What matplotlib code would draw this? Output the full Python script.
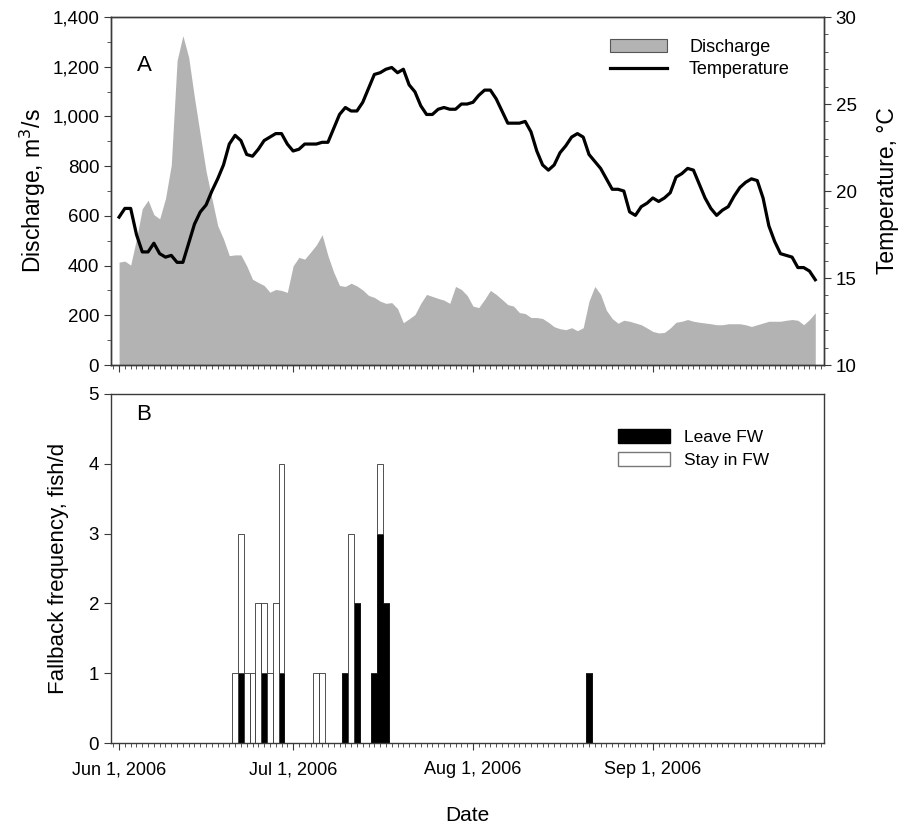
"""
Discharge / temperature (A) and fallback frequency (B), summer 2006.
"""
import matplotlib
matplotlib.use('Agg')
import matplotlib.pyplot as plt
import matplotlib.dates as mdates
import matplotlib.patches as mpatches
import matplotlib.lines as mlines
from matplotlib.ticker import MultipleLocator, FuncFormatter
import numpy as np
import pandas as pd

plt.rcParams['font.family'] = ['Liberation Sans', 'DejaVu Sans']

# daily series, Jun 1 .. Sep 29 2006
start_date = '2006-06-01'
discharge = [
    414, 418, 402, 507, 629, 663, 605, 588, 670, 805,
    1225, 1325, 1238, 1075, 926, 779, 670, 561, 507, 440,
    443, 443, 399, 345, 332, 320, 293, 304, 300, 292,
    399, 433, 426, 454, 483, 524, 440, 373, 320, 316,
    329, 318, 302, 280, 272, 257, 248, 251, 227, 170,
    186, 203, 248, 284, 276, 268, 261, 248, 316, 304,
    280, 237, 231, 264, 300, 284, 264, 243, 237, 211,
    207, 191, 191, 187, 172, 154, 146, 142, 150, 138,
    150, 257, 316, 284, 220, 187, 168, 180, 176, 169,
    162, 149, 135, 129, 131, 149, 172, 176, 183, 176,
    172, 169, 166, 162, 162, 166, 166, 166, 162, 155,
    162, 169, 176, 176, 176, 180, 183, 180, 162, 183,
    210,
]
temperature = [
    18.5, 19.0, 19.0, 17.5, 16.5, 16.5, 17.0, 16.4, 16.2, 16.3,
    15.9, 15.9, 17.0, 18.1, 18.8, 19.2, 20.0, 20.7, 21.5, 22.7,
    23.2, 22.9, 22.1, 22.0, 22.4, 22.9, 23.1, 23.3, 23.3, 22.7,
    22.3, 22.4, 22.7, 22.7, 22.7, 22.8, 22.8, 23.6, 24.4, 24.8,
    24.6, 24.6, 25.1, 25.9, 26.7, 26.8, 27.0, 27.1, 26.8, 27.0,
    26.1, 25.7, 24.9, 24.4, 24.4, 24.7, 24.8, 24.7, 24.7, 25.0,
    25.0, 25.1, 25.5, 25.8, 25.8, 25.3, 24.6, 23.9, 23.9, 23.9,
    24.0, 23.4, 22.3, 21.5, 21.2, 21.5, 22.2, 22.6, 23.1, 23.3,
    23.1, 22.1, 21.7, 21.3, 20.7, 20.1, 20.1, 20.0, 18.8, 18.6,
    19.1, 19.3, 19.6, 19.4, 19.6, 19.9, 20.8, 21.0, 21.3, 21.2,
    20.4, 19.6, 19.0, 18.6, 18.9, 19.1, 19.7, 20.2, 20.5, 20.7,
    20.6, 19.6, 18.0, 17.1, 16.4, 16.3, 16.2, 15.6, 15.6, 15.4,
    14.9,
]

# fallback events
fb_dates = ['2006-06-21', '2006-06-22', '2006-06-23', '2006-06-24', '2006-06-25',
            '2006-06-26', '2006-06-27', '2006-06-28', '2006-06-29', '2006-07-05',
            '2006-07-06', '2006-07-10', '2006-07-11', '2006-07-12', '2006-07-15',
            '2006-07-16', '2006-07-17', '2006-08-21']
leave_fw = [0, 1, 0, 0, 0, 1, 0, 0, 1, 0, 0, 1, 0, 2, 1, 3, 2, 1]
stay_fw = [1, 2, 1, 1, 2, 1, 1, 2, 3, 1, 1, 0, 3, 0, 0, 1, 0, 0]

month_ticks = ['2006-06-01', '2006-07-01', '2006-08-01', '2006-09-01']


def date_label(x, pos=None):
    d = mdates.num2date(x)
    return '{0:%b} {1}, {2}'.format(d, d.day, d.year)


def style_xaxis(ax):
    ax.xaxis.set_minor_locator(mdates.DayLocator())
    ax.set_xticks(pd.to_datetime(month_ticks))
    ax.tick_params(axis='x', which='major', direction='out', length=5, width=0.8)
    ax.tick_params(axis='x', which='minor', direction='out', length=3, width=0.6)


def main():
    dates = pd.date_range(start_date, periods=len(discharge), freq='D')
    x0 = pd.Timestamp(start_date) - pd.Timedelta(days=1.4)
    x1 = pd.Timestamp(start_date) + pd.Timedelta(days=121.5)

    fig = plt.figure(figsize=(9.02, 8.23), dpi=100)
    ax = fig.add_axes([0.123, 0.5565, 0.7905, 0.4228])
    axt = ax.twinx()
    axb = fig.add_axes([0.123, 0.0972, 0.7905, 0.4241])

    frame = '#3a3a3a'
    for a in (ax, axt, axb):
        for s in a.spines.values():
            s.set_color(frame)
            s.set_linewidth(1.0)
        a.tick_params(colors='black', labelsize=13.5)
        a.tick_params(which='both', color=frame)

    # panel A
    ax.fill_between(dates, 0, discharge, color='#b3b3b3', lw=0)
    axt.plot(dates, temperature, color='black', lw=2.3)
    ax.set_xlim(x0, x1)
    ax.set_ylim(0, 1400)
    axt.set_ylim(10, 30)
    ax.yaxis.set_major_locator(MultipleLocator(200))
    ax.yaxis.set_minor_locator(MultipleLocator(100))
    ax.yaxis.set_major_formatter(FuncFormatter(lambda v, p: '{0:,.0f}'.format(v)))
    axt.yaxis.set_major_locator(MultipleLocator(5))
    axt.yaxis.set_minor_locator(MultipleLocator(1))
    for a in (ax, axt):
        a.tick_params(axis='y', which='major', direction='out', length=5)
        a.tick_params(axis='y', which='minor', direction='out', length=3)
    style_xaxis(ax)
    ax.tick_params(axis='x', labelbottom=False)
    ax.set_ylabel('Discharge, m$^3$/s', fontsize=16.5, labelpad=3)
    axt.set_ylabel('Temperature, \u00b0C', fontsize=16.5, labelpad=14)
    ax.text(0.036, 0.845, 'A', transform=ax.transAxes, fontsize=16, va='baseline')

    h_dis = mpatches.Patch(facecolor='#b3b3b3', edgecolor='#555555', lw=0.8)
    h_tmp = mlines.Line2D([], [], color='black', lw=2.3)
    axt.legend([h_dis, h_tmp], ['Discharge', 'Temperature'], loc='upper right',
               bbox_to_anchor=(0.975, 0.985), frameon=False, fontsize=13,
               handlelength=3.2, handleheight=0.8, labelspacing=0.3,
               handletextpad=1.2)

    # panel B
    fb = pd.to_datetime(fb_dates)
    leave = np.array(leave_fw)
    stay = np.array(stay_fw)
    axb.bar(fb, leave, width=1.0, color='black', edgecolor='black', lw=0.6)
    axb.bar(fb, stay, bottom=leave, width=1.0, color='white', edgecolor='#333333', lw=0.6)
    axb.set_xlim(x0, x1)
    axb.set_ylim(0, 5)
    axb.yaxis.set_major_locator(MultipleLocator(1))
    axb.tick_params(axis='y', which='major', direction='out', length=5)
    style_xaxis(axb)
    axb.xaxis.set_major_formatter(FuncFormatter(date_label))
    axb.tick_params(axis='x', which='major', pad=8, labelsize=13)
    axb.set_ylabel('Fallback frequency, fish/d', fontsize=16, labelpad=14)
    axb.set_xlabel('Date', fontsize=15, labelpad=20)
    axb.text(0.036, 0.925, 'B', transform=axb.transAxes, fontsize=16, va='baseline')

    h_leave = mpatches.Patch(facecolor='black', edgecolor='black')
    h_stay = mpatches.Patch(facecolor='white', edgecolor='#777777')
    axb.legend([h_leave, h_stay], ['Leave FW', 'Stay in FW'], loc='upper right',
               bbox_to_anchor=(0.945, 0.945), frameon=False, fontsize=12.5,
               handlelength=3.0, handleheight=0.9, labelspacing=0.4,
               handletextpad=0.8)

    fig.savefig('out.png', dpi=100)


if __name__ == '__main__':
    main()
